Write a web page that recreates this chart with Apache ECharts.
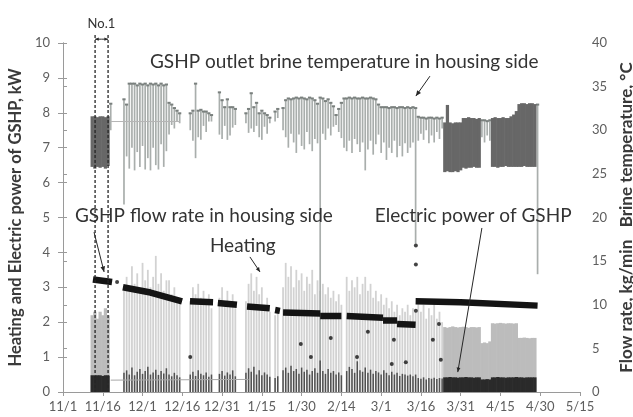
<!DOCTYPE html>
<html>
<head>
<meta charset="utf-8">
<script src="https://cdn.jsdelivr.net/npm/echarts@6/dist/echarts.min.js"></script>
<style>
  html, body { margin: 0; padding: 0; background: #fff; }
  #chart { width: 633px; height: 417px; }
</style>
</head>
<body>
<div id="chart"></div>
<script>
// x axis is in days counted from 11/1, one label every 15 days
const dateLabels = ['11/1', '11/16', '12/1', '12/16', '12/31', '1/15', '1/30', '2/14', '3/1', '3/16', '3/31', '4/15', '4/30', '5/15']

// GSHP outlet brine temperature, degC : [day, low, high]
const tempLines = [
  [18, 30.0, 33.1],
  [23, 21.5, 33.6], [24, 27.0, 33.0], [25, 25.6, 35.4], [26, 28.0, 35.4], [27, 25.4, 35.4], [28, 27.5, 35.2],
  [29, 25.8, 35.4], [30, 28.2, 35.3], [31, 25.5, 35.4], [32, 26.8, 35.2], [33, 25.4, 35.4], [34, 28.0, 35.3],
  [35, 26.0, 35.4], [36, 25.5, 35.2], [37, 28.4, 35.4], [38, 25.8, 35.2], [39, 27.6, 35.3], [40, 29.5, 33.2],
  [41, 30.6, 33.0], [42, 30.2, 32.6], [43, 31.0, 32.3], [44, 30.8, 32.0],
  [48, 30.0, 32.0], [49, 28.8, 32.3], [50, 26.8, 35.4], [51, 29.2, 32.3], [52, 28.9, 32.4], [53, 30.5, 32.2],
  [54, 29.8, 32.2], [55, 31.0, 32.0], [56, 31.0, 31.8],
  [59, 29.5, 34.4], [60, 29.0, 33.5], [61, 30.5, 32.7], [62, 28.9, 33.6], [63, 29.4, 32.7], [64, 30.3, 32.7], [65, 30.6, 32.5],
  [69, 30.8, 32.0], [70, 29.7, 32.5], [71, 30.2, 34.3], [72, 29.8, 32.7], [73, 30.5, 33.2], [74, 29.2, 32.0],
  [75, 28.9, 32.3], [76, 30.4, 32.0], [77, 29.6, 31.8], [78, 30.8, 31.5],
  [80, 31.0, 32.2], [81, 31.4, 32.5],
  [83, 30.0, 32.6], [84, 29.2, 33.5], [85, 28.0, 33.7], [86, 29.6, 33.6], [87, 28.6, 33.7], [88, 27.4, 33.8],
  [89, 29.5, 33.7], [90, 28.2, 33.8], [91, 27.8, 33.7], [92, 29.8, 33.6], [93, 28.4, 33.8], [94, 27.6, 33.7],
  [95, 29.0, 33.5], [96, 28.5, 33.1], [97, 0.0, 33.8], [98, 29.6, 33.7], [99, 28.9, 33.4], [100, 30.2, 33.6],
  [101, 29.4, 33.2], [102, 30.4, 32.8], [103, 30.6, 31.8], [104, 29.8, 32.5], [105, 29.1, 33.2], [106, 28.0, 33.7],
  [107, 27.6, 33.7], [108, 28.8, 33.8], [109, 27.4, 33.7], [110, 29.0, 33.8], [111, 28.4, 33.7], [112, 27.5, 33.7],
  [113, 28.6, 33.8], [114, 25.4, 33.7], [115, 27.8, 33.7], [116, 28.8, 33.8], [117, 27.2, 33.7], [118, 28.4, 33.6],
  [119, 29.5, 33.0], [120, 27.4, 32.7], [121, 28.6, 32.7], [122, 26.6, 32.7], [123, 28.0, 32.6], [124, 27.4, 32.7],
  [125, 28.8, 32.7], [126, 26.9, 32.6], [127, 28.2, 32.7], [128, 27.0, 32.7], [129, 28.5, 32.6], [130, 27.4, 32.7],
  [131, 28.0, 32.6], [132, 28.6, 32.7], [133, 17.0, 32.6],
  [134, 28.8, 31.6], [135, 29.6, 31.5], [136, 28.9, 31.5], [137, 30.0, 31.4], [138, 28.5, 31.5], [139, 29.4, 31.5],
  [140, 28.6, 31.4], [141, 29.8, 31.5], [142, 29.0, 31.4], [143, 30.2, 31.5],
  [158, 29.2, 31.2], [159, 28.6, 31.2], [160, 29.4, 31.1], [161, 28.8, 31.2],
  [179, 13.5, 33.0]
]
const tempBlocks = [
  [11, 25.8, 31.6], [12, 25.6, 31.6], [13, 25.8, 31.5], [14, 25.7, 31.6], [15, 25.8, 31.6], [16, 25.6, 31.5], [17, 25.9, 31.6],
  [144, 25.2, 30.9], [145, 25.3, 32.9], [146, 25.2, 30.9], [147, 25.2, 30.8], [148, 25.3, 30.9], [149, 25.2, 30.9], [150, 25.4, 30.9],
  [151, 25.7, 31.4], [152, 25.6, 31.4], [153, 25.7, 31.5], [154, 25.7, 31.4], [155, 25.8, 31.4], [156, 25.7, 31.3], [157, 25.7, 31.4],
  [162, 25.8, 31.4], [163, 25.8, 31.5], [164, 25.7, 31.4], [165, 25.8, 31.4], [166, 25.8, 31.5], [167, 25.9, 31.4],
  [168, 25.8, 31.4], [169, 25.8, 31.6], [170, 25.8, 31.8], [171, 25.8, 32.2],
  [172, 25.8, 33.0], [173, 25.8, 33.1], [174, 25.9, 33.1], [175, 25.8, 33.0], [176, 25.8, 33.1], [177, 25.8, 33.1], [178, 25.8, 33.0]
]
const tempLink = [[18, 31.0], [44, 31.0]]

// heating, kW : [day, peak]
const heatLines = [
  [23, 2.9], [24, 3.3], [25, 3.0], [26, 3.6], [27, 3.1], [28, 3.4], [29, 2.9], [30, 3.7], [31, 3.2], [32, 3.5], [33, 3.0],
  [34, 3.3], [35, 3.9], [36, 3.1], [37, 3.4], [38, 2.9], [39, 3.2], [40, 3.2], [41, 2.8], [42, 3.0], [43, 2.7], [44, 2.6],
  [48, 2.6], [49, 3.0], [50, 2.8], [51, 3.1], [52, 2.7], [53, 2.9], [54, 2.5], [55, 2.8], [56, 2.4],
  [59, 2.7], [60, 3.0], [61, 2.6], [62, 2.9], [63, 2.5], [64, 2.8], [65, 2.4],
  [69, 2.6], [70, 3.1], [71, 3.4], [72, 2.9], [73, 3.3], [74, 2.8], [75, 3.0], [76, 2.5], [77, 2.7], [78, 2.3],
  [80, 2.2], [81, 2.4],
  [83, 3.0], [84, 3.7], [85, 3.3], [86, 3.6], [87, 3.0], [88, 3.5], [89, 3.2], [90, 3.4], [91, 2.9], [92, 3.3], [93, 3.1],
  [94, 3.5], [95, 2.8], [96, 3.2], [97, 2.9], [98, 3.1], [99, 2.8], [100, 3.0], [101, 2.7], [102, 2.9], [103, 2.6],
  [104, 2.8], [105, 2.5],
  [107, 3.3], [108, 2.9], [109, 3.2], [110, 3.0], [111, 3.3], [112, 2.8], [113, 3.1], [114, 3.3], [115, 2.9], [116, 3.1],
  [117, 2.7], [118, 2.9], [119, 2.6], [120, 2.8], [121, 2.5], [122, 2.7], [123, 2.4], [124, 2.6], [125, 2.3], [126, 2.5],
  [127, 2.2], [128, 2.4], [129, 2.3], [130, 2.5], [131, 2.2], [132, 2.4], [133, 2.3],
  [134, 2.6], [135, 2.3], [136, 2.5], [137, 2.1], [138, 2.4], [139, 2.2], [140, 2.6], [141, 2.1], [142, 2.3], [143, 2.0]
]
const heatBlocks = [
  [11, 2.2], [12, 2.3], [13, 2.1], [14, 2.3], [15, 2.2], [16, 2.4], [17, 2.2],
  [144, 1.86], [145, 1.84], [146, 1.86], [147, 1.88], [148, 1.86], [149, 1.85], [150, 1.86], [151, 1.87],
  [152, 1.86], [153, 1.84], [154, 1.86], [155, 1.86], [156, 1.85], [157, 1.86],
  [158, 1.40], [159, 1.42], [160, 1.40], [161, 1.45],
  [162, 1.97], [163, 1.96], [164, 1.97], [165, 1.98], [166, 1.97], [167, 1.96], [168, 1.97], [169, 1.97], [170, 1.96], [171, 1.97],
  [172, 1.55], [173, 1.55], [174, 1.56], [175, 1.55], [176, 1.54], [177, 1.55], [178, 1.55]
]

// electric power of GSHP, kW : [day, peak]
const powerLines = [
  [23, 0.55], [24, 0.62], [25, 0.50], [26, 0.70], [27, 0.48], [28, 0.58], [29, 0.66], [30, 0.52], [31, 0.60], [32, 0.72],
  [33, 0.50], [34, 0.56], [35, 0.64], [36, 0.49], [37, 0.60], [38, 0.53], [39, 0.68], [40, 0.50], [41, 0.45], [42, 0.55],
  [43, 0.48], [44, 0.42],
  [48, 0.50], [49, 0.58], [50, 0.46], [51, 0.62], [52, 0.52], [53, 0.48], [54, 0.56], [55, 0.44], [56, 0.50],
  [59, 0.52], [60, 0.60], [61, 0.47], [62, 0.56], [63, 0.50], [64, 0.62], [65, 0.45],
  [69, 0.55], [70, 0.68], [71, 0.58], [72, 0.72], [73, 0.50], [74, 0.62], [75, 0.48], [76, 0.56], [77, 0.50], [78, 0.44],
  [80, 0.40], [81, 0.45],
  [83, 0.62], [84, 0.70], [85, 0.55], [86, 0.75], [87, 0.60], [88, 0.66], [89, 0.52], [90, 0.70], [91, 0.58], [92, 0.64],
  [93, 0.50], [94, 0.60], [95, 0.68], [96, 0.55], [97, 0.90], [98, 0.60], [99, 0.52], [100, 0.66], [101, 0.55], [102, 0.60],
  [103, 0.50], [104, 0.56], [105, 0.48],
  [107, 0.60], [108, 0.72], [109, 0.66], [110, 0.55], [111, 0.88], [112, 0.62], [113, 0.58], [114, 0.70], [115, 0.55],
  [116, 0.64], [117, 0.52], [118, 0.60], [119, 0.56], [120, 0.50], [121, 0.62], [122, 0.55], [123, 0.48], [124, 0.58],
  [125, 0.50], [126, 0.55], [127, 0.46], [128, 0.52], [129, 0.50], [130, 0.47], [131, 0.50], [132, 0.45], [133, 0.50],
  [134, 0.40], [135, 0.38], [136, 0.42], [137, 0.36], [138, 0.40], [139, 0.38], [140, 0.41], [141, 0.37], [142, 0.40], [143, 0.39]
]
const powerBlocks = [
  [11, 0.48], [12, 0.47], [13, 0.48], [14, 0.48], [15, 0.46], [16, 0.48], [17, 0.47],
  [144, 0.42], [145, 0.42], [146, 0.43], [147, 0.42], [148, 0.42], [149, 0.41], [150, 0.42], [151, 0.42],
  [152, 0.43], [153, 0.42], [154, 0.42], [155, 0.41], [156, 0.42], [157, 0.42],
  [158, 0.36], [159, 0.36], [160, 0.37], [161, 0.36],
  [162, 0.42], [163, 0.42], [164, 0.43], [165, 0.42], [166, 0.42], [167, 0.41], [168, 0.42], [169, 0.42],
  [170, 0.42], [171, 0.43], [172, 0.42], [173, 0.42], [174, 0.41], [175, 0.42], [176, 0.42], [177, 0.42], [178, 0.42]
]
const powerLink = [[18, 0.34], [70, 0.36]]

// GSHP flow rate in housing side, kg/min : one list per running period
const flowRuns = [
  [[11.3, 12.9], [18.5, 12.6]],
  [[22.6, 12.0], [33, 11.4], [44.9, 10.4]],
  [[47.9, 10.4], [56.6, 10.3]],
  [[58.4, 10.2], [65.6, 10.0]],
  [[69.4, 9.8], [78, 9.6]],
  [[80, 9.4], [81.8, 9.3]],
  [[83, 9.1], [97, 9.0]],
  [[97, 8.7], [105, 8.7]],
  [[107, 8.7], [120.7, 8.5]],
  [[120.7, 8.2], [126, 8.2]],
  [[126, 7.8], [133, 7.7]],
  [[133, 10.4], [150, 10.3], [179, 9.9]]
]
const flowDots = [
  [20.4, 12.6], [48, 4.0], [89.7, 5.5], [93.5, 4.0], [101, 6.2], [110.9, 4.0], [115, 6.9], [124, 3.2],
  [124.8, 6.0], [129.3, 3.4], [133.1, 16.8], [133.1, 14.6], [133.1, 9.3], [139.5, 6.0], [141.8, 7.8], [142.5, 3.7]
]

// vertical stroke from low to high at one day, with an optional darker cap one day wide
const stroke = (width, cap) => (params, api) => {
  const day = api.value(0)
  const lo = api.coord([day, api.value(1)])
  const hi = api.coord([day, api.value(2)])
  const dayW = api.size([1, 0])[0] + 0.6
  const w = width === 'day' ? dayW : width
  const kids = [{
    type: 'rect',
    shape: { x: lo[0] - w / 2, y: hi[1], width: w, height: lo[1] - hi[1] },
    style: { fill: api.visual('color') }
  }]
  if (cap) {
    kids.push({ type: 'rect', shape: { x: lo[0] - dayW / 2, y: hi[1] - 0.5, width: dayW, height: 2 }, style: { fill: cap } })
  }
  return { type: 'group', children: kids }
}
const fromZero = rows => rows.map(r => [r[0], 0, r[1]])

const axisGray = '#9a9a9a'
const labelGray = '#5e5e5e'
const titleFont = 'Lato'

const option = {
  animation: false,
  backgroundColor: '#fff',
  grid: { left: 63, right: 53, top: 43, bottom: 25, containLabel: false, outerBoundsMode: 'none' },
  xAxis: [
    {
      type: 'value', min: 0, max: 195, interval: 15,
      axisLine: { lineStyle: { color: axisGray } },
      axisTick: { length: 4, lineStyle: { color: axisGray } },
      splitLine: { show: false },
      axisLabel: {
        margin: 8, color: labelGray, fontFamily: titleFont, fontSize: 13,
        formatter: v => dateLabels[Math.round(v / 15)] || ''
      }
    },
    {
      type: 'value', position: 'top', min: 0, max: 195,
      axisLine: { show: true, lineStyle: { color: axisGray } },
      axisTick: { show: false }, axisLabel: { show: false }, splitLine: { show: false }
    }
  ],
  yAxis: [
    {
      type: 'value', min: 0, max: 10, interval: 1, position: 'left',
      name: 'Heating and Electric power of GSHP, kW',
      nameLocation: 'middle', nameRotate: 90, nameGap: 39,
      nameTextStyle: { fontFamily: titleFont, fontWeight: 'bold', fontSize: 16.5, color: '#3a3a3a' },
      axisLine: { show: true, lineStyle: { color: axisGray } },
      axisTick: { show: true, length: 5, lineStyle: { color: axisGray } },
      splitLine: { show: false },
      axisLabel: { margin: 13, color: labelGray, fontFamily: titleFont, fontSize: 13 }
    },
    {
      type: 'value', min: 0, max: 40, interval: 5, position: 'right',
      name: 'Flow rate, kg/min   Brine temperature, \u00b0C',
      nameLocation: 'middle', nameRotate: 90, nameGap: 32,
      nameTextStyle: { fontFamily: titleFont, fontWeight: 'bold', fontSize: 17, color: '#3a3a3a' },
      axisLine: { show: true, lineStyle: { color: axisGray } },
      axisTick: { show: true, length: 4, lineStyle: { color: axisGray } },
      splitLine: { show: false },
      axisLabel: { margin: 12, color: labelGray, fontFamily: titleFont, fontSize: 13 }
    },
    {
      type: 'value', min: 0, max: 10, interval: 1, position: 'left',
      axisLine: { show: false }, axisLabel: { show: false }, splitLine: { show: false },
      axisTick: { show: true, inside: true, length: 4, lineStyle: { color: axisGray } }
    }
  ],
  series: [
    { type: 'custom', name: 'heating', clip: true, renderItem: stroke(1.8), itemStyle: { color: '#d2d2d2' },
      encode: { x: 0, y: [1, 2] }, data: fromZero(heatLines), z: 1 },
    { type: 'custom', name: 'heating block', clip: true, renderItem: stroke('day'), itemStyle: { color: '#bcbcbc' },
      encode: { x: 0, y: [1, 2] }, data: fromZero(heatBlocks), z: 1 },
    { type: 'custom', name: 'brine temperature', yAxisIndex: 1, clip: true, renderItem: stroke(1.7, '#7a807e'),
      itemStyle: { color: '#a9aeac' }, encode: { x: 0, y: [1, 2] }, data: tempLines, z: 2 },
    { type: 'custom', name: 'brine temperature block', yAxisIndex: 1, clip: true, renderItem: stroke('day'),
      itemStyle: { color: '#676767' }, encode: { x: 0, y: [1, 2] }, data: tempBlocks, z: 2 },
    { type: 'line', yAxisIndex: 1, data: tempLink, symbol: 'none', lineStyle: { color: '#b5b5b5', width: 1 }, z: 2 },
    { type: 'custom', name: 'electric power', clip: true, renderItem: stroke(1.5), itemStyle: { color: '#505050' },
      encode: { x: 0, y: [1, 2] }, data: fromZero(powerLines), z: 3 },
    { type: 'custom', name: 'electric power block', clip: true, renderItem: stroke('day'), itemStyle: { color: '#2a2a2a' },
      encode: { x: 0, y: [1, 2] }, data: fromZero(powerBlocks), z: 3 },
    { type: 'line', data: powerLink, symbol: 'none', lineStyle: { color: '#a8a8a8', width: 1 }, z: 3 },
    ...flowRuns.map(run => ({
      type: 'line', name: 'flow rate', yAxisIndex: 1, data: run, symbol: 'none',
      lineStyle: { color: '#141414', width: 6.5, cap: 'butt' }, z: 5
    })),
    { type: 'scatter', name: 'flow rate', yAxisIndex: 1, data: flowDots, symbolSize: 4,
      itemStyle: { color: '#141414' }, z: 6 }
  ]
}

const chart = echarts.init(document.getElementById('chart'), null, { renderer: 'canvas' })
chart.setOption(option)

// annotations, anchored in (day, kW) of the left axis
const px = (day, kw) => chart.convertToPixel({ xAxisIndex: 0, yAxisIndex: 0 }, [day, kw])
const ink = '#262626'
function arrow (a, b, head) {
  const p = px(a[0], a[1])
  const q = px(b[0], b[1])
  const ang = Math.atan2(q[1] - p[1], q[0] - p[0])
  const h = head || 6
  const left = [q[0] - h * Math.cos(ang - 0.4), q[1] - h * Math.sin(ang - 0.4)]
  const right = [q[0] - h * Math.cos(ang + 0.4), q[1] - h * Math.sin(ang + 0.4)]
  return [
    { type: 'line', shape: { x1: p[0], y1: p[1], x2: q[0], y2: q[1] }, style: { stroke: ink, lineWidth: 1 }, z: 100 },
    { type: 'polygon', shape: { points: [q, left, right] }, style: { fill: ink }, z: 100 }
  ]
}
function note (text, at, font, align) {
  const p = px(at[0], at[1])
  return {
    type: 'text', x: p[0], y: p[1], z: 100,
    style: { text, fill: '#333', font: font || '19px Lato', align: align || 'left', verticalAlign: 'middle' }
  }
}
function dashed (day, top) {
  const p = px(day, top)
  const q = px(day, 0)
  return { type: 'line', shape: { x1: p[0], y1: p[1], x2: q[0], y2: q[1] },
    style: { stroke: ink, lineWidth: 1.3, lineDash: [3, 2] }, z: 100 }
}

const graphics = [
  note('GSHP outlet brine temperature in housing side', [32.8, 9.46]),
  ...arrow([138.4, 9.05], [133.1, 8.48]),
  note('GSHP flow rate in housing side', [4.5, 5.04]),
  ...arrow([11.7, 4.58], [15.5, 3.44]),
  note('Heating', [55.4, 4.18]),
  ...arrow([70.5, 3.87], [74.3, 3.44], 5),
  note('Electric power of GSHP', [117.6, 5.04]),
  ...arrow([158, 4.7], [148.9, 0.57], 5),
  dashed(12.1, 10.23),
  dashed(17.0, 10.23),
  ...arrow([14.5, 10.11], [12.1, 10.11], 4),
  ...arrow([14.5, 10.11], [17.0, 10.11], 4),
  note('No.1', [14.5, 10.55], '13px Lato', 'center')
]
chart.setOption({ graphic: graphics })
</script>
</body>
</html>
